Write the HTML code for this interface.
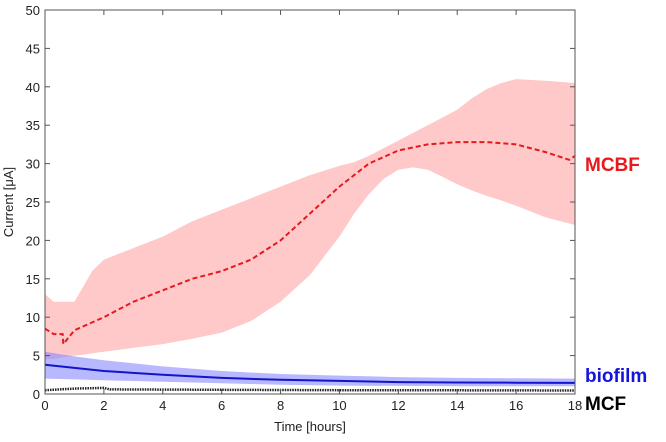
<!DOCTYPE html>
<html><head><meta charset="utf-8"><style>
body{margin:0;background:#fff;width:666px;height:437px;overflow:hidden}
svg{font-family:"Liberation Sans",sans-serif}
</style></head><body>
<svg id="chart" width="666" height="437" viewBox="0 0 666 437"></svg>
<script>
const times=[0,0.3,0.6,0.62,1,2,3,4,5,6,7,8,9,10,11,12,13,14,15,16,17,17.8,18];
const mcbfMean=[8.5,7.8,7.8,6.5,8.3,10,12,13.5,15,16,17.5,20,23.5,27,30,31.7,32.5,32.8,32.8,32.5,31.5,30.5,31];
const bandT=[0,0.3,1,1.3,1.6,2,3,4,5,6,7,8,9,10,10.5,11,11.5,12,12.5,13,13.5,14,14.5,15,15.5,16,17,18];
const mcbfUpper=[13,12,12,14,16,17.5,19,20.5,22.5,24,25.5,27,28.5,29.7,30.2,31,32,33,34,35,36,37,38.5,39.7,40.5,41,40.8,40.5];
const mcbfLower=[4.5,4.6,5,5.1,5.3,5.5,6,6.5,7.2,8,9.5,12,15.5,20.5,23.5,26,28,29.2,29.5,29.2,28.3,27.3,26.5,25.8,25.2,24.5,23,22];
const bioT=[0,1,2,4,6,8,10,12,14,16,18];
const bioMean=[3.8,3.4,3,2.5,2.1,1.85,1.7,1.55,1.5,1.47,1.45];
const bioUpper=[5.5,4.9,4.4,3.6,3,2.6,2.4,2.2,2.1,2.05,2];
const bioLower=[2,1.9,1.8,1.6,1.4,1.2,1.1,1.05,1,1,1];
const mcfT=[0,1,2,2.2,6,10,14,18];
const mcfMean=[0.5,0.7,0.8,0.6,0.55,0.5,0.48,0.45];
const xTicks=[0,2,4,6,8,10,12,14,16,18];
const yTicks=[0,5,10,15,20,25,30,35,40,45,50];
const L=45,R=575,T=10,B=394;
const xs=v=>L+(R-L)*v/18, ys=v=>B-(B-T)*v/50;
const svg=document.getElementById('chart');const NS='http://www.w3.org/2000/svg';
function mk(t,a,p){const e=document.createElementNS(NS,t);for(const k in a)e.setAttribute(k,a[k]);(p||svg).appendChild(e);return e;}
function line(t,v){return t.map((x,i)=>(i?'L':'M')+xs(x).toFixed(1)+','+ys(v[i]).toFixed(1)).join('');}
function band(t,u,l){let d=line(t,u);for(let i=t.length-1;i>=0;i--)d+='L'+xs(t[i]).toFixed(1)+','+ys(l[i]).toFixed(1);return d+'Z';}
let e;
e=mk('path',{d:band(bandT,mcbfUpper,mcbfLower),fill:'#ffc9c9'});


e=mk('path',{d:band(bioT,bioUpper,bioLower),fill:'#8888ff',opacity:'0.6'});


e=mk('path',{d:line(times,mcbfMean),fill:'none',stroke:'#e8191e','stroke-width':2,'stroke-dasharray':'5,3'});


e=mk('path',{d:line(bioT,bioMean),fill:'none',stroke:'#1414c8','stroke-width':2});


e=mk('path',{d:line(mcfT,mcfMean),fill:'none',stroke:'#222','stroke-width':2.5,'stroke-dasharray':'1.5,1'});


e=mk('rect',{x:L,y:T,width:R-L,height:B-T,fill:'none',stroke:'#555','stroke-width':1});


xTicks.forEach(v=>{
 mk('line',{x1:xs(v),x2:xs(v),y1:B,y2:B-5,stroke:'#555'});
 mk('line',{x1:xs(v),x2:xs(v),y1:T,y2:T+5,stroke:'#555'});
 e=mk('text',{x:xs(v),y:B+16,'text-anchor':'middle','font-size':13,fill:'#222'});e.textContent=v;
 
 
});
yTicks.forEach(v=>{
 mk('line',{x1:L,x2:L+5,y1:ys(v),y2:ys(v),stroke:'#555'});
 mk('line',{x1:R,x2:R-5,y1:ys(v),y2:ys(v),stroke:'#555'});
 e=mk('text',{x:L-5,y:ys(v)+5,'text-anchor':'end','font-size':13,fill:'#222'});e.textContent=v;
 
 
});
e=mk('text',{x:310,y:431,'text-anchor':'middle','font-size':13,fill:'#222'});e.textContent='Time [hours]';


e=mk('text',{x:13,y:202,'text-anchor':'middle','font-size':13,fill:'#222',transform:'rotate(-90 13 202)'});e.textContent='Current [μA]';


[['MCBF','#e8191e',171,'label-mcbf'],['biofilm','#1414dc',382,'label-biofilm'],['MCF','#000',410,'label-mcf']].forEach(a=>{
 e=mk('text',{x:585,y:a[2],'font-size':19,'font-weight':'bold',fill:a[1]});e.textContent=a[0];
 
 
});
</script>
</body></html>
